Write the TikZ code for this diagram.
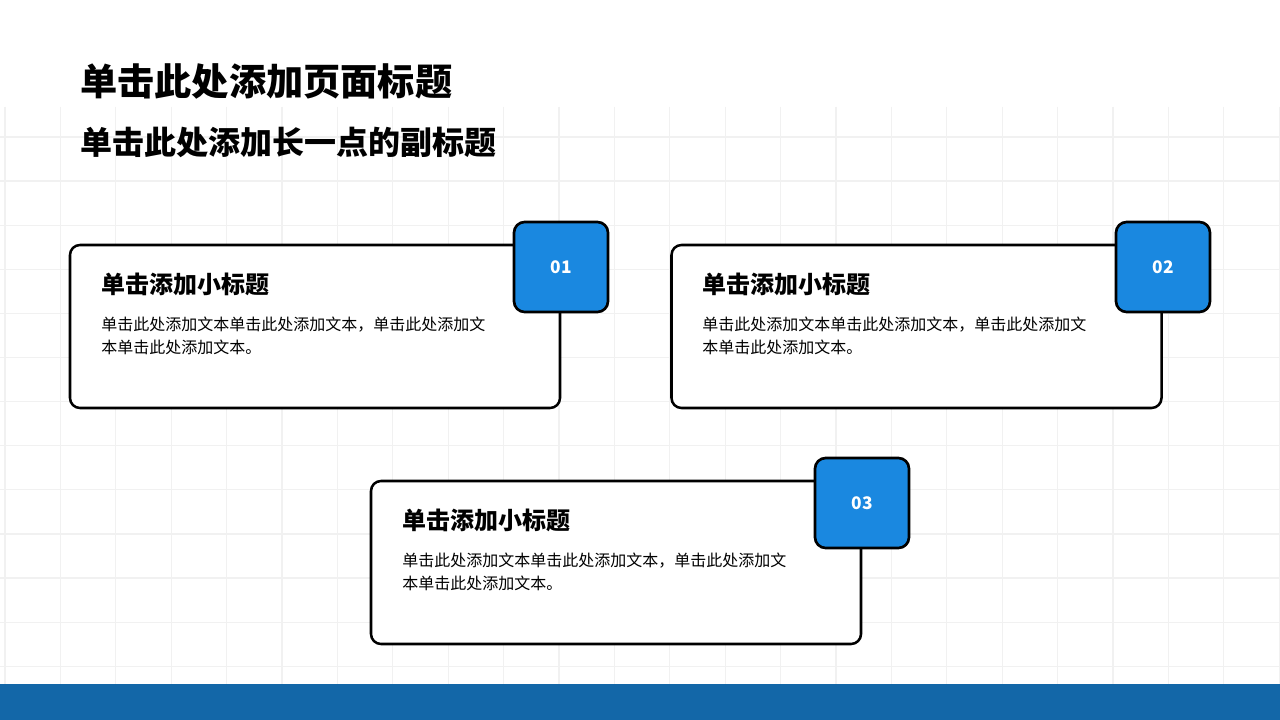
\documentclass[tikz,border=0pt]{standalone}
\usepackage{fontspec}
\setmainfont{Noto Sans CJK SC}
\usetikzlibrary{positioning}

\definecolor{badgeblue}{RGB}{26,136,224}
\definecolor{barblue}{RGB}{19,103,168}
\definecolor{gridgray}{RGB}{241,241,241}

\begin{document}
\begin{tikzpicture}[
  x=0.75pt,y=-0.75pt,
  gridline/.style={draw=gridgray,line width=0.9pt},
  pagetitle/.style={anchor=base west,inner sep=0pt,font=\bfseries\fontsize{27.9}{32}\selectfont},
  subtitle/.style={anchor=base west,inner sep=0pt,font=\bfseries\fontsize{24}{28}\selectfont},
  card/.style={draw=black,fill=white,line width=1.9pt,rounded corners=7.5pt,minimum width=367.5pt,minimum height=122.25pt},
  badge/.style={draw=black,fill=badgeblue,line width=2pt,rounded corners=8pt,minimum width=70.5pt,minimum height=67.5pt,
    text=white,font=\bfseries\fontsize{13}{15}\selectfont},
  cardtitle/.style={anchor=base west,inner sep=0pt,font=\bfseries\fontsize{18}{22}\selectfont},
  cardtext/.style={anchor=base west,inner sep=0pt,align=left,font=\fontsize{12}{17.25}\selectfont}
]
\useasboundingbox (0,0) rectangle (1280,720);
\fill[white] (0,0) rectangle (1280,720);

% background grid
\foreach \i in {0,...,23}
  \draw[gridline] (5+55.4*\i,107) -- (5+55.4*\i,684);
\foreach \j in {0,...,12}
  \draw[gridline] (0,137+44.1*\j) -- (1280,137+44.1*\j);
\fill[barblue] (0,684) rectangle (1280,720);

\node[pagetitle] (title) at (80,96) {单击此处添加页面标题};
\node[subtitle] (sub) at (80,155) {单击此处添加长一点的副标题};

% cards
\node[card] (card1) at (315,326.5) {};
\node[badge] (badge1) at (561,267) {01};
\node[cardtitle] (head1) at (101,293) {单击添加小标题};
\node[cardtext] (text1) at (101,353) {单击此处添加文本单击此处添加文本，单击此处添加文\\本单击此处添加文本。};

\node[card] (card2) at (916.5,326.5) {};
\node[badge] (badge2) at (1163,267) {02};
\node[cardtitle] (head2) at (702,293) {单击添加小标题};
\node[cardtext] (text2) at (702,353) {单击此处添加文本单击此处添加文本，单击此处添加文\\本单击此处添加文本。};

\node[card] (card3) at (616,562.5) {};
\node[badge] (badge3) at (862,503) {03};
\node[cardtitle] (head3) at (402,529) {单击添加小标题};
\node[cardtext] (text3) at (402,589) {单击此处添加文本单击此处添加文本，单击此处添加文\\本单击此处添加文本。};
\end{tikzpicture}
\end{document}
